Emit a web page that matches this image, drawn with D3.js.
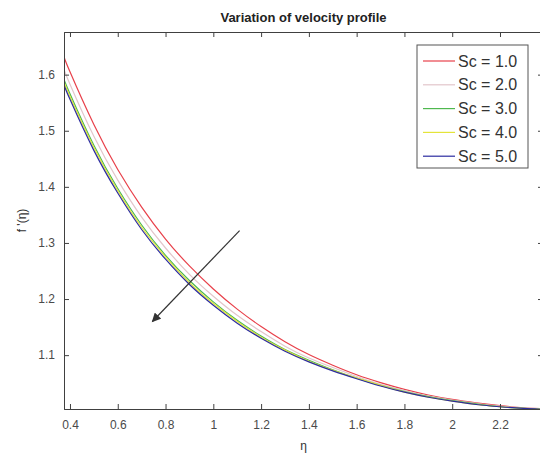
<!DOCTYPE html>
<html>
<head>
<meta charset="utf-8">
<script src="https://cdn.jsdelivr.net/npm/d3@7"></script>
<style>
  body { margin: 0; background: #fff; }
  svg { font-family: "Liberation Sans", Arial, Helvetica, sans-serif; }
</style>
</head>
<body>
<div id="container"></div>
<script>
/**
 * DATA
 * */
const eta = [0.375, 0.4, 0.5, 0.6, 0.7, 0.8, 0.9, 1.0, 1.1, 1.2, 1.3, 1.4, 1.5, 1.6, 1.7, 1.8, 1.9, 2.0, 2.1, 2.2, 2.3, 2.4];

const sc1 = [1.632, 1.605, 1.511, 1.431, 1.364, 1.307, 1.259, 1.218, 1.182, 1.151, 1.124, 1.101, 1.082, 1.065, 1.051, 1.039, 1.029, 1.021, 1.015, 1.010, 1.006, 1.004];
const sc2 = [1.610, 1.583, 1.490, 1.412, 1.346, 1.291, 1.244, 1.205, 1.171, 1.142, 1.116, 1.095, 1.078, 1.062, 1.048, 1.037, 1.027, 1.020, 1.014, 1.009, 1.006, 1.004];
const sc3 = [1.592, 1.566, 1.474, 1.397, 1.332, 1.278, 1.233, 1.195, 1.162, 1.134, 1.110, 1.091, 1.074, 1.059, 1.046, 1.035, 1.026, 1.019, 1.013, 1.008, 1.005, 1.003];
const sc4 = [1.587, 1.561, 1.470, 1.393, 1.328, 1.275, 1.229, 1.192, 1.160, 1.132, 1.109, 1.089, 1.073, 1.059, 1.046, 1.034, 1.025, 1.018, 1.012, 1.008, 1.005, 1.003];
const sc5 = [1.582, 1.556, 1.465, 1.389, 1.324, 1.271, 1.226, 1.189, 1.157, 1.130, 1.107, 1.088, 1.072, 1.058, 1.045, 1.034, 1.025, 1.018, 1.012, 1.008, 1.005, 1.003];

const seriesNames = ["Sc = 1.0", "Sc = 2.0", "Sc = 3.0", "Sc = 4.0", "Sc = 5.0"];
const seriesColors = ["#e8404a", "#e2c6cb", "#4fb84f", "#e4e43a", "#2c2ca0"];

const xTicks = [0.4, 0.6, 0.8, 1.0, 1.2, 1.4, 1.6, 1.8, 2.0, 2.2];
const yTicks = [1.1, 1.2, 1.3, 1.4, 1.5, 1.6];

// arrow: start -> end in data units
const arrowPts = [[1.11, 1.322], [0.745, 1.160]];

/**
 * CONSTANTS
 * */
const width = 540,
  height = 455,
  margin = { top: 32, bottom: 46, left: 64, right: -3 };

const axisColor = "#404040",
  tickLen = 5;

const svg = d3.select("#container")
  .append("svg")
  .attr("width", width)
  .attr("height", height);

const x = d3.scaleLinear()
  .domain([0.375, 2.38])
  .range([margin.left, width - margin.right]);

const y = d3.scaleLinear()
  .domain([1.004, 1.676])
  .range([height - margin.bottom, margin.top]);

svg.append("clipPath")
  .attr("id", "plotClip")
  .append("rect")
  .attr("x", x.range()[0])
  .attr("y", y.range()[1])
  .attr("width", x.range()[1] - x.range()[0])
  .attr("height", y.range()[0] - y.range()[1]);

// CURVES
const allSeries = [sc1, sc2, sc3, sc4, sc5];

const line = d3.line()
  .x((d, i) => x(eta[i]))
  .y(d => y(d))
  .curve(d3.curveNatural);

svg.append("g")
  .attr("clip-path", "url(#plotClip)")
  .selectAll("path")
  .data(allSeries)
  .join("path")
  .attr("d", line)
  .attr("fill", "none")
  .attr("stroke", (d, i) => seriesColors[i])
  .attr("stroke-width", 1.2);

// AXES (box with inward ticks)
const fmt = d => String(+d.toFixed(1));

svg.append("g")
  .attr("transform", `translate(0,${y.range()[0]})`)
  .call(d3.axisBottom(x).tickValues(xTicks).tickSize(-tickLen).tickPadding(11).tickFormat(fmt));

svg.append("g")
  .attr("transform", `translate(0,${y.range()[1]})`)
  .call(d3.axisTop(x).tickValues(xTicks).tickSize(-tickLen).tickFormat(""));

svg.append("g")
  .attr("transform", `translate(${x.range()[0]},0)`)
  .call(d3.axisLeft(y).tickValues(yTicks).tickSize(-tickLen).tickPadding(9).tickFormat(fmt));

svg.append("g")
  .attr("transform", `translate(${x.range()[1]},0)`)
  .call(d3.axisRight(y).tickValues(yTicks).tickSize(-tickLen).tickFormat(""));

svg.selectAll(".domain").attr("stroke", axisColor);
svg.selectAll(".tick line").attr("stroke", axisColor);
svg.selectAll(".tick text")
  .attr("fill", "#4a4a4a")
  .style("font-size", "12px");

// ARROW
svg.append("defs")
  .append("marker")
  .attr("id", "head")
  .attr("viewBox", "0 0 10 10")
  .attr("refX", 9)
  .attr("refY", 5)
  .attr("markerWidth", 10)
  .attr("markerHeight", 9)
  .attr("markerUnits", "userSpaceOnUse")
  .attr("orient", "auto")
  .append("path")
  .attr("d", "M0,0 L10,5 L0,10 Z")
  .attr("fill", "#333");

svg.append("line")
  .attr("x1", x(arrowPts[0][0]))
  .attr("y1", y(arrowPts[0][1]))
  .attr("x2", x(arrowPts[1][0]))
  .attr("y2", y(arrowPts[1][1]))
  .attr("stroke", "#333")
  .attr("stroke-width", 1.2)
  .attr("marker-end", "url(#head)");

// TITLE + LABELS
svg.append("text")
  .attr("x", (margin.left + 543) / 2)
  .attr("y", 22)
  .attr("text-anchor", "middle")
  .style("font-size", "13px")
  .style("font-weight", "bold")
  .attr("fill", "#222")
  .text("Variation of velocity profile");

svg.append("text")
  .attr("transform", `translate(26,${(y.range()[0] + y.range()[1]) / 2}) rotate(-90)`)
  .attr("text-anchor", "middle")
  .style("font-size", "12px")
  .attr("fill", "#333")
  .text("f '(η)");

svg.append("text")
  .attr("x", (margin.left + 543) / 2)
  .attr("y", 450)
  .attr("text-anchor", "middle")
  .style("font-size", "12px")
  .attr("fill", "#333")
  .text("η");

// LEGEND
const legend = svg.append("g")
  .attr("transform", "translate(417,45)");

legend.append("rect")
  .attr("width", 111)
  .attr("height", 123)
  .attr("fill", "#fff")
  .attr("stroke", "#555")
  .attr("stroke-width", 1);

const rows = legend.selectAll(".row")
  .data(seriesNames)
  .join("g")
  .attr("class", "row")
  .attr("transform", (d, i) => `translate(0,${16 + i * 23.8})`);

rows.append("line")
  .attr("x1", 6)
  .attr("x2", 38)
  .attr("stroke", (d, i) => seriesColors[i])
  .attr("stroke-width", 1.2);

rows.append("text")
  .attr("x", 41)
  .attr("y", 5.5)
  .style("font-size", "16px")
  .attr("fill", "#333")
  .text(d => d);
</script>
</body>
</html>
